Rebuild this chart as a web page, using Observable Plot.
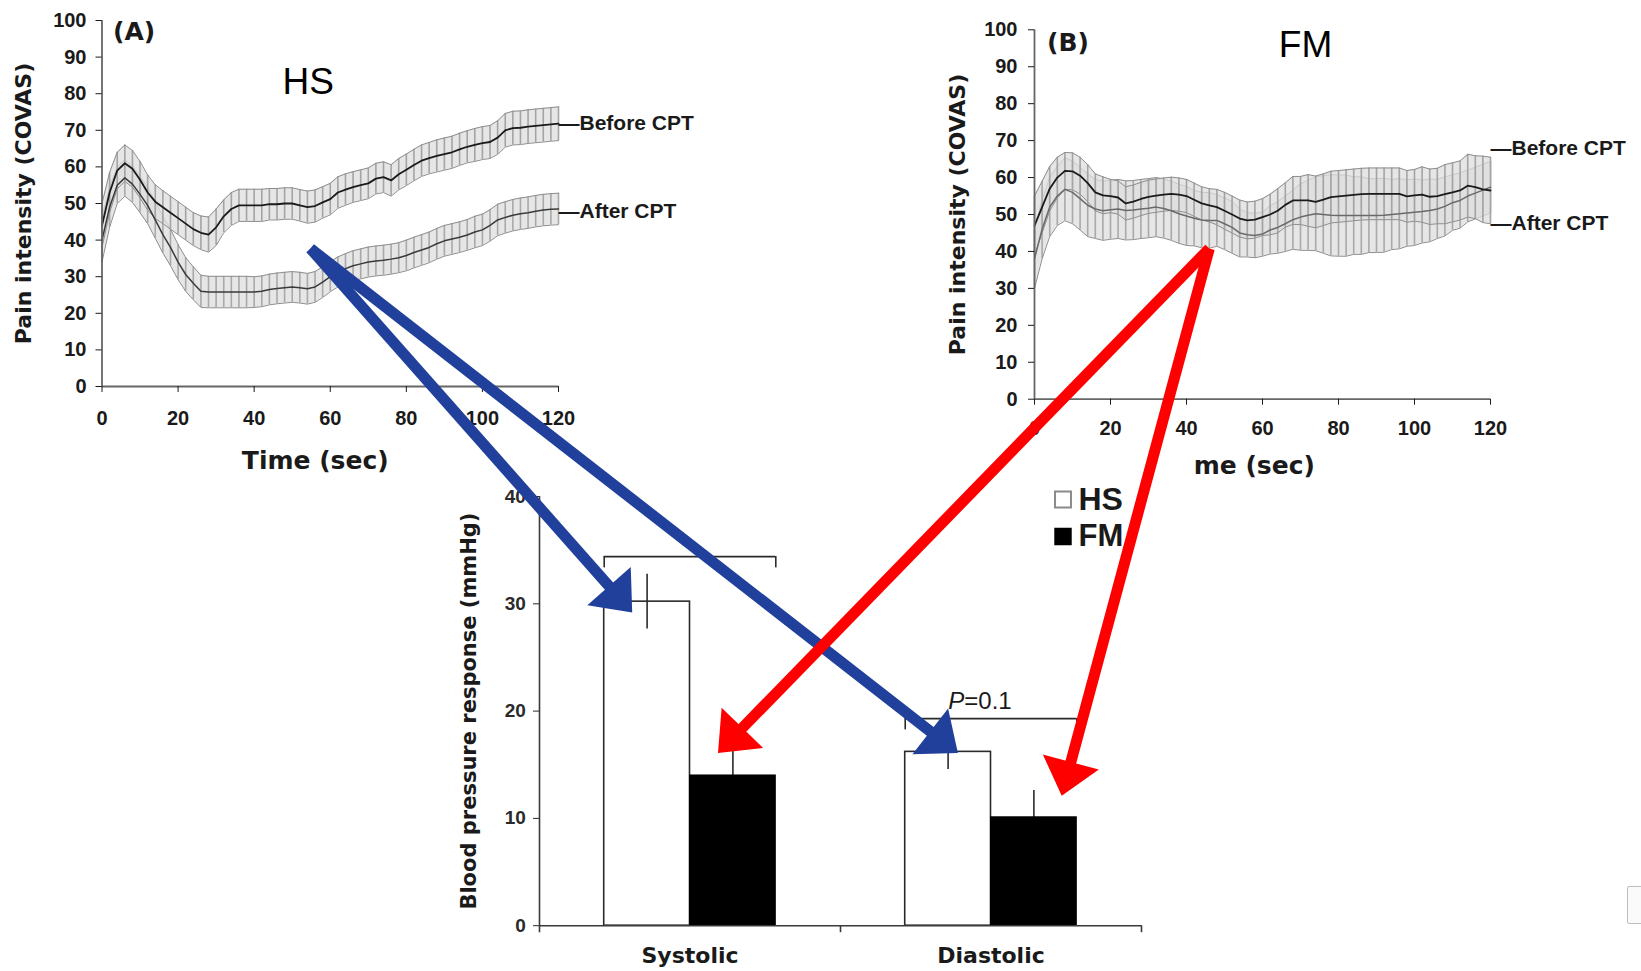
<!DOCTYPE html>
<html><head><meta charset="utf-8">
<script src="https://cdn.jsdelivr.net/npm/d3@7"></script>
<script src="https://cdn.jsdelivr.net/npm/@observablehq/plot@0.6"></script>
<style>
html,body{margin:0;padding:0;background:#fff;}
#page{position:relative;width:1641px;height:971px;overflow:hidden;background:#fff;}
.layer{position:absolute;}
#barbox{background:#fff;}
#overlay{pointer-events:none;}
#corner{position:absolute;left:1627px;top:886px;width:20px;height:36px;border:1px solid #bdbdbd;border-radius:2px;background:#fafafa;}
</style></head>
<body><div id="page"></div>
<script>
// ---------------- data ----------------
const timeSec = [0,2,4,6,8,10,12,14,16,18,20,22,24,26,28,30,32,34,36,38,40,42,44,46,48,50,52,54,56,58,60,62,64,66,68,70,72,74,76,78,80,82,84,86,88,90,92,94,96,98,100,102,104,106,108,110,112,114,116,118,120];
const painTicks = [0,10,20,30,40,50,60,70,80,90,100];
const timeTicks = [0,20,40,60,80,100,120];

// (A) HS – COVAS pain intensity, mean and SE
const hsBefore = [44,53,59,61,59.5,56.5,53,50.5,49,47.5,46, 44.5,43,42,41.5,43.5,46.5,48.5,49.5,49.5,49.5, 49.5,49.8,49.8,50,50,49.5,49,49.3,50.3,51.2, 53,53.8,54.5,55,55.5,56.8,57.2,56.3,58,59.2, 60.5,61.7,62.4,63,63.5,64,64.8,65.5,66,66.5, 66.8,68,70,70.6,70.7,71,71.2,71.4,71.6,71.8];
const hsBeforeSE = [6,5.5,5,5,5,5, 4.8,4.6,4.5,4.5,4.5,4.5,4.5,4.6,4.8,5, 4.5,4.5,4.4,4.4,4.4,4.4,4.3,4.3,4.3,4.3, 4.3,4.4,4.4,4.3,4.3,4.3,4.3,4.2,4.2,4.2, 4.2,4.2,4.3,4.3,4.3,4.3,4.3,4.3,4.4,4.4, 4.4,4.4,4.4,4.5,4.5,4.5,4.6,4.6,4.6,4.6, 4.6,4.6,4.6,4.6,4.6];
const hsAfter = [40,49,55,57,55.3,52.5,49.5,45.5,41.5,38,34, 30.6,28.2,26,25.8,25.8,25.8,25.8,25.8,25.8,25.8, 26,26.5,26.8,27,27.2,27,26.7,27.2,28.5,30, 31.3,32.2,33,33.5,34,34.3,34.5,34.8,35.2,35.8, 36.6,37.3,38,39,39.8,40.3,40.8,41.4,42.2,42.8, 44,45.5,46.2,46.8,47.2,47.5,47.9,48.2,48.4,48.5];
const hsAfterSE = [6,5.5,5,5,5,5, 5,5,5,5,4.8,4.6,4.5,4.4,4.3,4.3, 4.3,4.3,4.3,4.3,4.2,4.2,4.2,4.2,4.2,4.2, 4.2,4.2,4.2,4.2,4.1,4.1,4.1,4.1,4.1,4.1, 4.1,4.1,4.1,4.1,4.2,4.2,4.2,4.2,4.2,4.2, 4.2,4.2,4.2,4.3,4.3,4.3,4.3,4.3,4.3,4.3, 4.3,4.3,4.3,4.3,4.3];

// (B) FM – COVAS pain intensity, mean and SE
const fmBefore = [47,52,57,60,61.8,61.7,60.5,58.5,56,55.2,55, 54.6,53,53.5,54.2,54.8,55.1,55.4,55.6,55.4,55, 54,53,52.5,52,51,50,48.9,48.4,48.6,49.3, 50,51,52.6,53.8,53.8,53.8,53.4,54,54.7,54.9, 55.1,55.3,55.5,55.6,55.6,55.6,55.6,55.6,54.9,55.2, 55.4,54.8,55,55.5,56,56.5,57.8,57.4,56.8,56.5];
const fmBeforeSE = [8,7,6,5.5,5,5, 5,5,5,5,4.5,4.5,4.5,4.5,4.5,4.5, 4.5,4.5,4.5,4.5,4.5,4.5,4.5,4.5,4.8,5,5,5,5,5,5, 5.5,6,6,6.5,6.5,7,7,7,7,7, 7,7,7,7,7,7,7,7,7,7, 7.5,7.5,7.5,8,8,8,8.5,8.5,9,9];
const fmAfter = [38,46,52,55,56.8,56,54.3,52.5,51.5,51,51.3, 51.5,51.1,51.2,51.5,51.7,52,51.6,51,50.2,49.6, 49,48.5,48.4,48.4,47.5,46.5,45,44.5,44.3,44.7, 45.8,46.5,47.5,48.6,49.3,49.8,50.2,50,49.8,49.7, 49.7,49.7,49.7,49.7,49.7,49.8,50,50.2,50.4,50.6, 50.8,51.1,51.5,52.2,53.2,53.8,55,55.8,56.6,57.4];
const fmAfterSE = [8,8,8,8,8.5,8.5, 8.5,8.5,8,8,8,8,8,8,8,8, 8,8,8,8,8,7.5,7.5,7.5,7,7,7,6.5,6,6,6, 6.5,7,7.5,8,9,9.5,10,10.5,11,11, 11,10.5,10.5,10,10,10,9.5,9.5,9,9, 8.5,8.5,8,8,7.5,7.5,7,7,7,7];

const seriesLabels = ["Before CPT", "After CPT"];
const labelPainA = [72, 48];
const labelPainB = [68, 47.6];

// Blood pressure response
const bpCategories = ["Systolic", "Diastolic"];
const bpGroups = ["HS", "FM"];
const bpHS = [30.2, 16.2];
const bpHSse = [2.55, 1.65];
const bpFM = [14.0, 10.1];
const bpFMse = [2.3, 2.5];
const bpTicks = [0, 10, 20, 30, 40];
const bracketValue = [34.4, 19.3];
const sigMark = "*";
const sigMarkValue = 35.4;
const pLabel = "P=0.1";
const pLabelValue = 20.9;

// arrows: from a point of a pain curve to a bar
const arrowFromPanel = ["A", "A", "B", "B"];
const arrowFromTime = [54.8, 54.8, 46, 46];
const arrowFromPain = [37.7, 37.7, 40.8, 40.8];
const arrowToCategory = ["Systolic", "Diastolic", "Systolic", "Diastolic"];
const arrowToAlong = [0.308, 0.39, 0.593, 0.735];
const arrowToValue = [29.2, 16.1, 16.1, 12.1];

// ---------------- layout & style ----------------
const FONT = "'Liberation Sans', Arial, sans-serif";
const WIDE = "'DejaVu Sans', Verdana, sans-serif";
const BLUE = "#20409b", RED = "#ff0000";
const posA = {left: 0, top: 0, width: 600, height: 480};
const posB = {left: 880, top: 0, width: 761, height: 480};
const posBar = {left: 450, top: 445, width: 743, height: 526};

const page = document.getElementById("page");
function place(node, pos, id) {
  const div = document.createElement("div");
  div.className = "layer";
  if (id) div.id = id;
  div.style.left = pos.left + "px"; div.style.top = pos.top + "px";
  div.style.width = pos.width + "px"; div.style.height = pos.height + "px";
  div.appendChild(node);
  page.appendChild(div);
}

function rows(mean, se) {
  return timeSec.map((t, i) => ({t, v: mean[i], lo: mean[i] - se[i], hi: mean[i] + se[i]}));
}

function bandMarks(r, ruleColor) {
  return [
    Plot.areaY(r, {x: "t", y1: "lo", y2: "hi", fill: "#dedede", fillOpacity: 0.75}),
    Plot.ruleX(r, {x: "t", y1: "lo", y2: "hi", stroke: ruleColor, strokeWidth: 1.6}),
    Plot.lineY(r, {x: "t", y: "hi", stroke: "#8e8e8e", strokeWidth: 1}),
    Plot.lineY(r, {x: "t", y: "lo", stroke: "#8e8e8e", strokeWidth: 1})
  ];
}

function painPanel(o) {
  const before = rows(o.before, o.beforeSE), after = rows(o.after, o.afterSE);
  const labels = seriesLabels.map((s, i) => ({s: "\u2014" + s, v: o.labelPain[i]}));
  return Plot.plot({
    width: o.pos.width, height: o.pos.height,
    marginLeft: o.m[0], marginRight: o.m[1], marginTop: o.m[2], marginBottom: o.m[3],
    x: {domain: [0, 120]}, y: {domain: [0, 100]},
    style: {fontFamily: FONT, fontSize: "20px", fontWeight: "bold", color: "#1a1a1a", background: "transparent", overflow: "visible"},
    marks: [
      ...bandMarks(after, "#a9a9a9"),
      ...bandMarks(before, "#a4a4a4"),
      Plot.lineY(after, {x: "t", y: "v", stroke: o.afterColor, strokeWidth: 1.5}),
      Plot.lineY(before, {x: "t", y: "v", stroke: "#1a1a1a", strokeWidth: 1.8}),
      Plot.ruleX([0], {stroke: "#666", strokeWidth: 1.8}),
      Plot.ruleY([0], {stroke: "#666", strokeWidth: 1.8}),
      Plot.axisY({ticks: painTicks, tickSize: 6, tickPadding: o.yPad, label: null}),
      Plot.axisX({ticks: timeTicks, tickSize: 6, tickPadding: o.xPad, label: null}),
      Plot.text(labels, {x: timeSec[timeSec.length - 1], y: "v", text: "s", textAnchor: "start", fontSize: 21, fontWeight: "bold", fill: "#1a1a1a"}),
      Plot.text([o.letter], {frameAnchor: "top-left", dx: o.letterDx, dy: o.letterDy, textAnchor: "start", lineAnchor: "middle", fontFamily: WIDE, fontSize: 25, fontWeight: "bold", fill: "#1a1a1a"}),
      Plot.text([o.title], {frameAnchor: "top", dx: o.titleDx, dy: o.titleDy, lineAnchor: "middle", fontFamily: FONT, fontSize: 37, fontWeight: "normal", fill: "#000"}),
      Plot.text(["Pain intensity (COVAS)"], {frameAnchor: "left", dx: o.yTitleDx, rotate: -90, textAnchor: "middle", lineAnchor: "middle", fontFamily: WIDE, fontSize: 22, fontWeight: "bold", fill: "#1a1a1a"}),
      Plot.text(["Time (sec)"], {frameAnchor: "bottom", dx: o.xTitleDx, dy: o.xTitleDy, lineAnchor: "middle", fontFamily: WIDE, fontSize: 25, fontWeight: "bold", fill: "#1a1a1a"})
    ]
  });
}

const chartA = painPanel({
  pos: posA, m: [101.5, 42, 20, 94],
  before: hsBefore, beforeSE: hsBeforeSE, after: hsAfter, afterSE: hsAfterSE, afterColor: "#3a3a3a",
  labelPain: labelPainA, letter: "(A)", letterDx: 11, letterDy: 11, title: "HS", titleDx: -22, titleDy: 61.6,
  yPad: 9.5, xPad: 18, yTitleDx: -78.5, xTitleDx: -15, xTitleDy: 74.5
});
const chartB = painPanel({
  pos: posB, m: [154, 151, 29.3, 81.3],
  before: fmBefore, beforeSE: fmBeforeSE, after: fmAfter, afterSE: fmAfterSE, afterColor: "#6a6a6a",
  labelPain: labelPainB, letter: "(B)", letterDx: 12.6, letterDy: 12.7, title: "FM", titleDx: 43, titleDy: 15,
  yPad: 11, xPad: 16, yTitleDx: -76.4, xTitleDx: -21, xTitleDy: 67
});
place(chartA, posA);
place(chartB, posB);

// ---------------- bar chart ----------------
const barM = {left: 89, right: 52, top: 51, bottom: 45.8};
const bw = (posBar.width - barM.left - barM.right) / bpCategories.length;
const SIDE = 0.215;            // outer gap of the bar pair inside a category band
const HALF = (0.5 - SIDE) / 2; // offset of a bar centre from the band centre
const hsRows = bpCategories.map((c, i) => ({category: c, value: bpHS[i], lo: bpHS[i] - bpHSse[i], hi: bpHS[i] + bpHSse[i]}));
const fmRows = bpCategories.map((c, i) => ({category: c, value: bpFM[i], lo: bpFM[i] - bpFMse[i], hi: bpFM[i] + bpFMse[i]}));
const bracketRows = bpCategories.map((c, i) => ({category: c, value: bracketValue[i]}));
const legendRows = bpGroups.map((g, i) => ({g, i}));

const chartBar = Plot.plot({
  width: posBar.width, height: posBar.height,
  marginLeft: barM.left, marginRight: barM.right, marginTop: barM.top, marginBottom: barM.bottom,
  x: {domain: bpCategories, padding: 0, axis: null},
  y: {domain: [0, 40]},
  style: {fontFamily: FONT, fontSize: "19px", fontWeight: "bold", color: "#2a2a2a", background: "#fff", overflow: "visible"},
  marks: [
    Plot.ruleX(fmRows, {x: "category", y1: "lo", y2: "hi", dx: bw * HALF, stroke: "#2a2a2a", strokeWidth: 1.6}),
    Plot.barY(hsRows, {x: "category", y: "value", fill: "#fff", stroke: "#2a2a2a", strokeWidth: 1.6, insetLeft: bw * SIDE, insetRight: bw * 0.5}),
    Plot.barY(fmRows, {x: "category", y: "value", fill: "#000", stroke: "#000", strokeWidth: 1, insetLeft: bw * 0.5, insetRight: bw * SIDE}),
    Plot.ruleX(hsRows, {x: "category", y1: "lo", y2: "hi", dx: -bw * HALF, stroke: "#2a2a2a", strokeWidth: 1.6}),
    Plot.tickY(bracketRows, {x: "category", y: "value", insetLeft: bw * SIDE, insetRight: bw * SIDE, stroke: "#2a2a2a", strokeWidth: 1.6}),
    Plot.ruleX(bracketRows, {x: "category", y1: d => d.value - 1.05, y2: "value", dx: -bw * (0.5 - SIDE), stroke: "#2a2a2a", strokeWidth: 1.6}),
    Plot.ruleX(bracketRows, {x: "category", y1: d => d.value - 1.05, y2: "value", dx: bw * (0.5 - SIDE), stroke: "#2a2a2a", strokeWidth: 1.6}),
    Plot.text([sigMark], {x: () => bpCategories[0], y: () => sigMarkValue, dx: -4, fontSize: 24, fontWeight: "normal", fill: "#555"}),
    Plot.ruleY([0], {stroke: "#3a3a3a", strokeWidth: 1.6}),
    Plot.ruleX(bpCategories.slice(0, 1), {x: d => d, y1: -0.65, y2: 40, dx: -bw / 2, stroke: "#3a3a3a", strokeWidth: 1.6}),
    Plot.ruleX(bpCategories.slice(1), {x: d => d, y1: -0.65, y2: 0, dx: -bw / 2, stroke: "#3a3a3a", strokeWidth: 1.6}),
    Plot.ruleX(bpCategories.slice(-1), {x: d => d, y1: -0.65, y2: 0, dx: bw / 2, stroke: "#3a3a3a", strokeWidth: 1.6}),
    Plot.axisY({ticks: bpTicks, tickSize: 6, tickPadding: 7.6, label: null}),
    Plot.text(bpCategories, {x: d => d, frameAnchor: "bottom", dy: 30.4, lineAnchor: "middle", fontFamily: WIDE, fontSize: 22, fontWeight: "bold", fill: "#1a1a1a"}),
    Plot.text(["Blood pressure response (mmHg)"], {frameAnchor: "left", dx: -70, rotate: -90, textAnchor: "middle", lineAnchor: "middle", fontFamily: WIDE, fontSize: 21, fontWeight: "bold", fill: "#1a1a1a"}),
    Plot.text([pLabel.slice(0, 1)], {x: () => bpCategories[1], y: () => pLabelValue, dx: -26.7, textAnchor: "end", fontStyle: "italic", fontWeight: "normal", fontSize: 24, fill: "#1a1a1a"}),
    Plot.text([pLabel.slice(1)], {x: () => bpCategories[1], y: () => pLabelValue, dx: -26.7, textAnchor: "start", fontWeight: "normal", fontSize: 24, fill: "#1a1a1a"}),
    Plot.dot(legendRows.slice(0, 1), {frameAnchor: "top-right", dx: -78.5, dy: 3, symbol: "square", r: 9, fill: "#fff", stroke: "#8a8a8a", strokeWidth: 2}),
    Plot.dot(legendRows.slice(1), {frameAnchor: "top-right", dx: -78.5, dy: 40, symbol: "square", r: 9, fill: "#000", stroke: "#000"}),
    Plot.text(legendRows.slice(0, 1), {frameAnchor: "top-right", dx: -63, dy: 3, text: "g", textAnchor: "start", lineAnchor: "middle", fontSize: 32, fontWeight: "bold", fill: "#1a1a1a"}),
    Plot.text(legendRows.slice(1), {frameAnchor: "top-right", dx: -63, dy: 40, text: "g", textAnchor: "start", lineAnchor: "middle", fontSize: 31, fontWeight: "bold", fill: "#1a1a1a"})
  ]
});
place(chartBar, posBar, "barbox");

// ---------------- arrows overlay ----------------
const HEAD_LEN = 35, HEAD_HALF = 29;
const headSymbol = {draw(ctx) { ctx.moveTo(0, 0); ctx.lineTo(-HEAD_HALF, HEAD_LEN); ctx.lineTo(HEAD_HALF, HEAD_LEN); ctx.closePath(); }};
const sxBar = chartBar.scale("x"), syBar = chartBar.scale("y");
const arrows = arrowFromPanel.map((p, i) => {
  const c = p === "A" ? chartA : chartB, pos = p === "A" ? posA : posB;
  const x1 = pos.left + c.scale("x").apply(arrowFromTime[i]);
  const y1 = pos.top + c.scale("y").apply(arrowFromPain[i]);
  const x2 = posBar.left + sxBar.apply(arrowToCategory[i]) + sxBar.bandwidth * arrowToAlong[i];
  const y2 = posBar.top + syBar.apply(arrowToValue[i]);
  const len = Math.hypot(x2 - x1, y2 - y1), ux = (x2 - x1) / len, uy = (y2 - y1) / len;
  return {x1, y1, x2, y2, xs: x2 - ux * (HEAD_LEN - 4), ys: y2 - uy * (HEAD_LEN - 4),
          angle: Math.atan2(ux, -uy) * 180 / Math.PI, color: p === "A" ? BLUE : RED};
});
const overlay = Plot.plot({
  width: 1641, height: 971, margin: 0,
  x: {domain: [0, 1641], range: [0, 1641], axis: null},
  y: {domain: [0, 971], range: [0, 971], axis: null},
  color: {type: "identity"},
  style: {background: "transparent", overflow: "visible"},
  marks: [
    Plot.link(arrows, {x1: "x1", y1: "y1", x2: "xs", y2: "ys", stroke: "color", strokeWidth: 11}),
    Plot.dot(arrows, {x: "x2", y: "y2", symbol: headSymbol, r: 10, fill: "color", stroke: "none", rotate: "angle"})
  ]
});
place(overlay, {left: 0, top: 0, width: 1641, height: 971}, "overlay");

const corner = document.createElement("div");
corner.id = "corner";
page.appendChild(corner);
</script>
</body></html>
